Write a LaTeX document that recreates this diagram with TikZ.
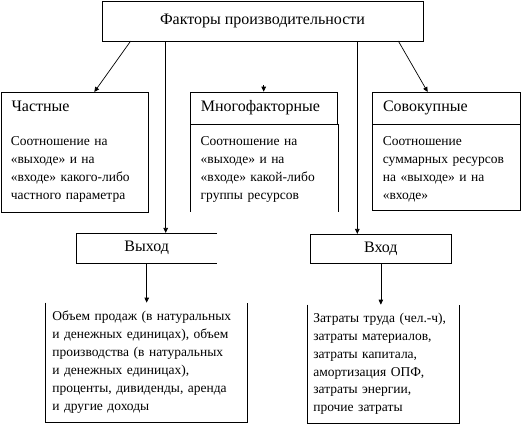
\documentclass[tikz,border=0pt]{standalone}
\usepackage{fontspec}
\setmainfont{Liberation Serif}
\usetikzlibrary{arrows.meta,positioning}

\newcommand\hdrsize{\fontsize{16}{18}\selectfont}
\newcommand\txtsize{\fontsize{13.5}{17.9}\selectfont}

\begin{document}
\begin{tikzpicture}[x=1pt, y=-1pt, >={Triangle[length=5pt,width=4.5pt]},
  line width=0.7pt,
  box/.style={draw, inner sep=0pt},
  frame/.style={inner sep=0pt},
  hdr/.style={inner sep=0pt, anchor=base west, font=\hdrsize},
  txt/.style={inner sep=0pt, anchor=base west, font=\txtsize, text width=#1, align=left},
  list/.style={inner xsep=6.4pt, inner ysep=0pt, font=\txtsize, text width=#1, align=left}]
\useasboundingbox (0,0) rectangle (521,424);

  % Boxes
\node[box, minimum width=321pt, minimum height=40pt, font=\hdrsize] (factors) at (262.5,21) {Факторы производительности};
\node[box, minimum width=147pt, minimum height=120pt] (partial) at (74.5,152) {};
\node[box, minimum width=147.4pt, minimum height=32.3pt] (multiH) at (264,108.2) {};
\node[frame, minimum width=147.4pt, minimum height=87.4pt] (multiB) at (264,168) {};
\node[box, minimum width=147.3pt, minimum height=32pt] (totalH) at (446.35,108) {};
\node[box, minimum width=147.3pt, minimum height=86pt] (totalB) at (446.35,167) {};
\node[frame, minimum width=140pt, minimum height=29.4pt, font=\hdrsize] (output) at (146.7,248) {Выход};
\node[box, minimum width=141.7pt, minimum height=29pt, font=\hdrsize] (input) at (380.85,248.8) {Вход};
\node[list=188pt, minimum height=118.7pt] (sales) at (146.3,362.35) {Объем продаж (в натуральных\\и денежных единицах), объем\\производства (в натуральных\\и денежных единицах),\\проценты, дивиденды, аренда\\и другие доходы};
\node[list=140pt, minimum height=117.7pt, inner xsep=6pt] (costs) at (383.3,363.85) {Затраты труда (чел.-ч),\\затраты материалов,\\затраты капитала,\\амортизация ОПФ,\\затраты энергии,\\прочие затраты};

  % Texts in the upper boxes
\node[hdr] (partialT) at (11.2,111.5) {Частные}; \node[hdr] (multiT) at (200.5,111.5) {Многофакторные}; \node[hdr] (totalT) at (382.7,111.5) {Совокупные};
\node[txt=134pt] (partialD) at (10.5,145.3) {Соотношение на\\«выходе» и на\\«входе» какого-либо\\частного параметра};
\node[txt=134pt] (multiD) at (200.3,145.3) {Соотношение на\\«выходе» и на\\«входе» какой-либо\\группы ресурсов};
\node[txt=134pt] (totalD) at (382.5,145.3) {Соотношение\\суммарных ресурсов\\на «выходе» и на\\«входе»};

  % Open sides of some boxes
\draw (multiB.north west) -- (multiB.south west) (multiB.north east) -- (multiB.south east);
\draw (output.north east) -- (output.north west) -- (output.south west) -- (output.south east);
\draw (sales.north west) -- (sales.south west) -- (sales.south east) -- (sales.north east);
\draw (costs.north west) -- (costs.south west) -- (costs.south east) -- (costs.north east);

  % Arrows
\coordinate (partTap) at (130.7,41); \coordinate (partEnd) at (94.3,92); \coordinate (totalTap) at (398.3,41); \coordinate (totalEnd) at (427.7,92); \coordinate (multiStub) at (263.7,85); \coordinate (outTap) at (165.7,41); \coordinate (inTap) at (357.3,41);
\draw[->] (partTap) -- (partEnd); \draw[->] (totalTap) -- (totalEnd); \draw[->] (multiStub) -- (multiStub |- multiH.north);
\draw[->] (outTap) -- (outTap |- output.north); \draw[->] (inTap) -- (inTap |- input.north);
\draw[->] (output.south) -- (output.south |- sales.north); \draw[->] (input.south) -- (input.south |- costs.north);

\end{tikzpicture}
\end{document}
